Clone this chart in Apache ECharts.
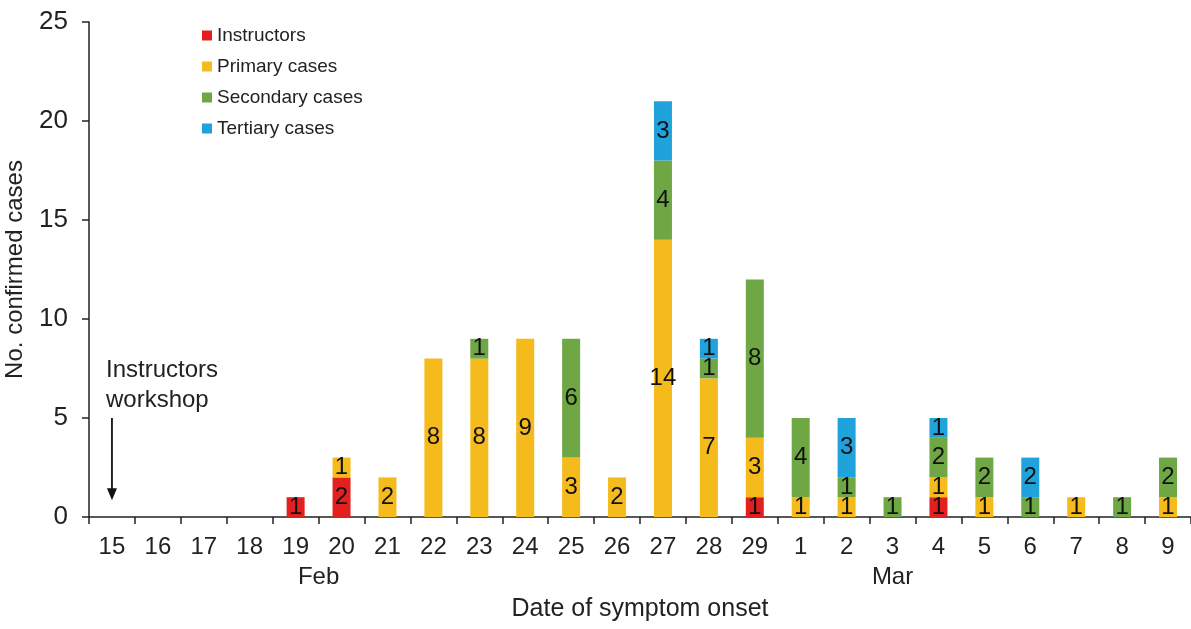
<!DOCTYPE html>
<html>
<head>
<meta charset="utf-8">
<script src="https://cdn.jsdelivr.net/npm/echarts@6/dist/echarts.min.js"></script>
<style>html,body{margin:0;padding:0;background:#fff;}#c{width:1191px;height:629px;}</style>
</head>
<body>
<div id="c"></div>
<script>
const dates = ['15','16','17','18','19','20','21','22','23','24','25','26','27','28','29','1','2','3','4','5','6','7','8','9'];
const instructors = [null,null,null,null,1,2,null,null,null,null,null,null,null,null,1,null,null,null,1,null,null,null,null,null];
const primary     = [null,null,null,null,null,1,2,8,8,9,3,2,14,7,3,1,1,null,1,1,null,1,null,1];
const secondary   = [null,null,null,null,null,null,null,null,1,null,6,null,4,1,8,4,1,1,2,2,1,null,1,2];
const tertiary    = [null,null,null,null,null,null,null,null,null,null,null,null,3,1,null,null,3,null,1,null,2,null,null,null];
const yTicks = [0,5,10,15,20,25];

const FONT = 'Liberation Sans, Arial, sans-serif';
const chart = echarts.init(document.getElementById('c'));

function mk(name, data, color){
  return {
    name, type:'bar', stack:'all', data, barWidth:18,
    itemStyle:{color},
    label:{show:true, position:'inside', color:'#111', fontSize:24, fontFamily:FONT,
      formatter:p => (p.value ? p.value : '')},
    emphasis:{disabled:true}
  };
}

chart.setOption({
  animation:false,
  textStyle:{fontFamily:FONT},
  grid:{left:89, right:0, top:22, bottom:112, containLabel:false, outerBoundsMode:'none'},
  legend:{
    orient:'vertical', left:197, top:21, itemWidth:10, itemHeight:10, itemGap:12,
    icon:'rect', textStyle:{fontSize:19, color:'#222', fontFamily:FONT},
    data:['Instructors','Primary cases','Secondary cases','Tertiary cases']
  },
  xAxis:{
    type:'category', data:dates, boundaryGap:true,
    axisLine:{lineStyle:{color:'#222', width:1.5}},
    axisTick:{show:true, alignWithLabel:false, length:7, lineStyle:{color:'#222', width:1.5}},
    axisLabel:{fontSize:24, color:'#222', margin:18, interval:0, fontFamily:FONT},
    name:'Date of symptom onset', nameLocation:'middle', nameGap:80,
    nameTextStyle:{fontSize:25, color:'#222', fontFamily:FONT}
  },
  yAxis:{
    type:'value', min:0, max:25, interval:5,
    axisLine:{show:true, lineStyle:{color:'#222', width:1.5}},
    axisTick:{show:true, length:7, lineStyle:{color:'#222', width:1.5}},
    splitLine:{show:false},
    axisLabel:{fontSize:26, color:'#222', margin:21, fontFamily:FONT,
      formatter:v => yTicks.includes(v) ? String(v) : ''},
    name:'No. confirmed cases', nameLocation:'middle', nameGap:62,
    nameTextStyle:{fontSize:24, color:'#222', fontFamily:FONT}
  },
  series:[
    mk('Instructors', instructors, '#e3201f'),
    mk('Primary cases', primary, '#f5bb1c'),
    mk('Secondary cases', secondary, '#6fa744'),
    mk('Tertiary cases', tertiary, '#20a2dc')
  ]
});

function px(cat, val){ return chart.convertToPixel({xAxisIndex:0, yAxisIndex:0}, [cat, val]); }
const p19 = px('19', 0), p20 = px('20', 0), p3 = px('3', 0);
const aTop = px('15', 5.0), aBot = px('15', 0.85);
const t1 = px('15', 7.4), t2 = px('15', 5.9);
chart.setOption({
  graphic:[
    {type:'text', x:(p19[0]+p20[0])/2, y:p19[1]+60, style:{text:'Feb', fontSize:24, fill:'#222', fontFamily:FONT, align:'center', verticalAlign:'middle'}},
    {type:'text', x:p3[0], y:p3[1]+60, style:{text:'Mar', fontSize:24, fill:'#222', fontFamily:FONT, align:'center', verticalAlign:'middle'}},
    {type:'text', x:t1[0]-6, y:t1[1], style:{text:'Instructors', fontSize:24, fill:'#222', fontFamily:FONT, verticalAlign:'middle'}},
    {type:'text', x:t2[0]-6, y:t2[1], style:{text:'workshop', fontSize:24, fill:'#222', fontFamily:FONT, verticalAlign:'middle'}},
    {type:'line', shape:{x1:aTop[0], y1:aTop[1], x2:aBot[0], y2:aBot[1]-6}, style:{stroke:'#111', lineWidth:1.8}},
    {type:'polygon', shape:{points:[[aBot[0]-5, aBot[1]-12],[aBot[0]+5, aBot[1]-12],[aBot[0], aBot[1]]]}, style:{fill:'#111'}}
  ]
});
</script>
</body>
</html>
